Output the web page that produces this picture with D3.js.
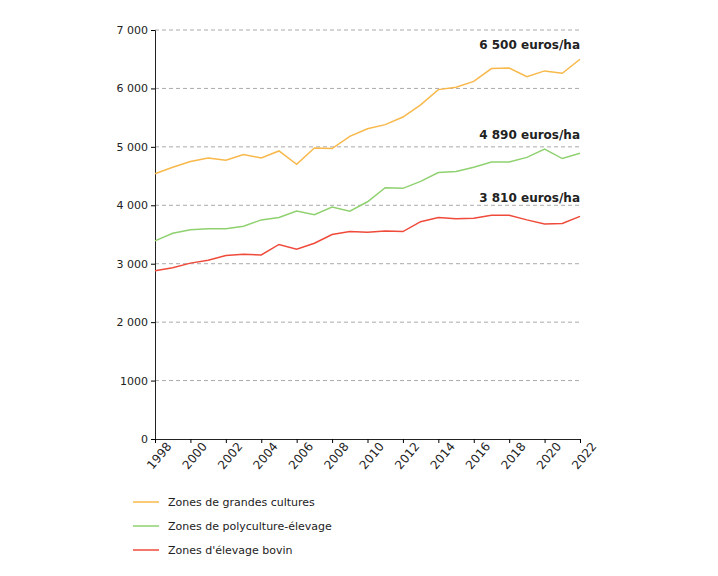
<!DOCTYPE html>
<html><head><meta charset="utf-8">
<script src="https://cdn.jsdelivr.net/npm/d3@7"></script>
<style>body{margin:0;background:#fff}svg{font-family:"DejaVu Sans",Verdana,sans-serif}</style>
</head><body><svg width="718" height="576"></svg>
<script>
var years = d3.range(1998, 2023);
var grandesCultures = [4540,4650,4750,4810,4770,4870,4810,4930,4700,4980,4970,5180,5310,5380,5510,5720,5980,6020,6120,6340,6350,6200,6300,6260,6500];
var polyculture = [3390,3520,3580,3600,3600,3640,3750,3790,3900,3840,3970,3900,4060,4300,4290,4410,4560,4580,4650,4740,4740,4820,4960,4800,4890];
var bovin = [2880,2930,3010,3060,3140,3160,3150,3330,3250,3350,3500,3550,3540,3560,3550,3720,3790,3770,3780,3830,3830,3750,3680,3690,3810];
var seriesNames = ['Zones de grandes cultures', 'Zones de polyculture-élevage', "Zones d'élevage bovin"];
var endLabels = ['6 500 euros/ha', '4 890 euros/ha', '3 810 euros/ha'];
var yTicks = [0,1000,2000,3000,4000,5000,6000,7000];
var yTickLabels = ['0','1000','2 000','3 000','4 000','5 000','6 000','7 000'];
var colors = ['#f8b84a', '#8fd16f', '#ef4a3a'];

var svg = d3.select('svg');
var x = d3.scaleLinear().domain([1998, 2022]).range([155, 580]);
var y = d3.scaleLinear().domain([0, 7000]).range([439, 30]);

// grid
svg.append('g').selectAll('line').data(yTicks.slice(1)).enter().append('line')
  .attr('x1', 155).attr('x2', 580).attr('y1', d => y(d)).attr('y2', d => y(d))
  .attr('stroke', '#aaa').attr('stroke-dasharray', '4,3');

// y axis
var yAxis = d3.axisLeft(y).tickValues(yTicks).tickSize(4).tickFormat((d, i) => yTickLabels[i]);
var gy = svg.append('g').attr('transform', 'translate(155,0)').call(yAxis);
gy.select('.domain').attr('stroke', '#222');
gy.selectAll('text').attr('font-size', 11).attr('fill', '#222').attr('font-family', 'DejaVu Sans');

// x axis
var xAxis = d3.axisBottom(x).tickValues(d3.range(1998, 2023, 2)).tickSize(4).tickFormat(d3.format('d'));
var gx = svg.append('g').attr('transform', 'translate(0,439)').call(xAxis);
gx.select('.domain').attr('stroke', '#222');
gx.selectAll('text').attr('font-size', 12).attr('fill', '#222').attr('font-family', 'DejaVu Sans')
  .attr('text-anchor', 'end').attr('dx', '0.4em').attr('dy', '0.9em')
  .attr('transform', 'rotate(-50)');

var all = [grandesCultures, polyculture, bovin];
var line = d3.line().x((d, i) => x(years[i])).y(d => y(d));
all.forEach((s, k) => {
  svg.append('path').datum(s).attr('d', line).attr('fill', 'none')
    .attr('stroke', colors[k]).attr('stroke-width', 1.5);
  svg.append('text').attr('x', 580).attr('y', y(s[s.length - 1]) - (k === 0 ? 10 : 14))
    .attr('text-anchor', 'end').attr('font-size', 12).attr('font-weight', 'bold')
    .attr('fill', '#222').text(endLabels[k]);
});

// legend
var lg = svg.append('g').selectAll('g').data(seriesNames).enter().append('g')
  .attr('transform', (d, i) => 'translate(133,' + (502 + i * 24) + ')');
lg.append('line').attr('x1', 0).attr('x2', 26).attr('stroke', (d, i) => colors[i]).attr('stroke-width', 1.5);
lg.append('text').attr('x', 35).attr('dy', '0.35em').attr('font-size', 11).attr('fill', '#222').text(d => d);
</script></body></html>
